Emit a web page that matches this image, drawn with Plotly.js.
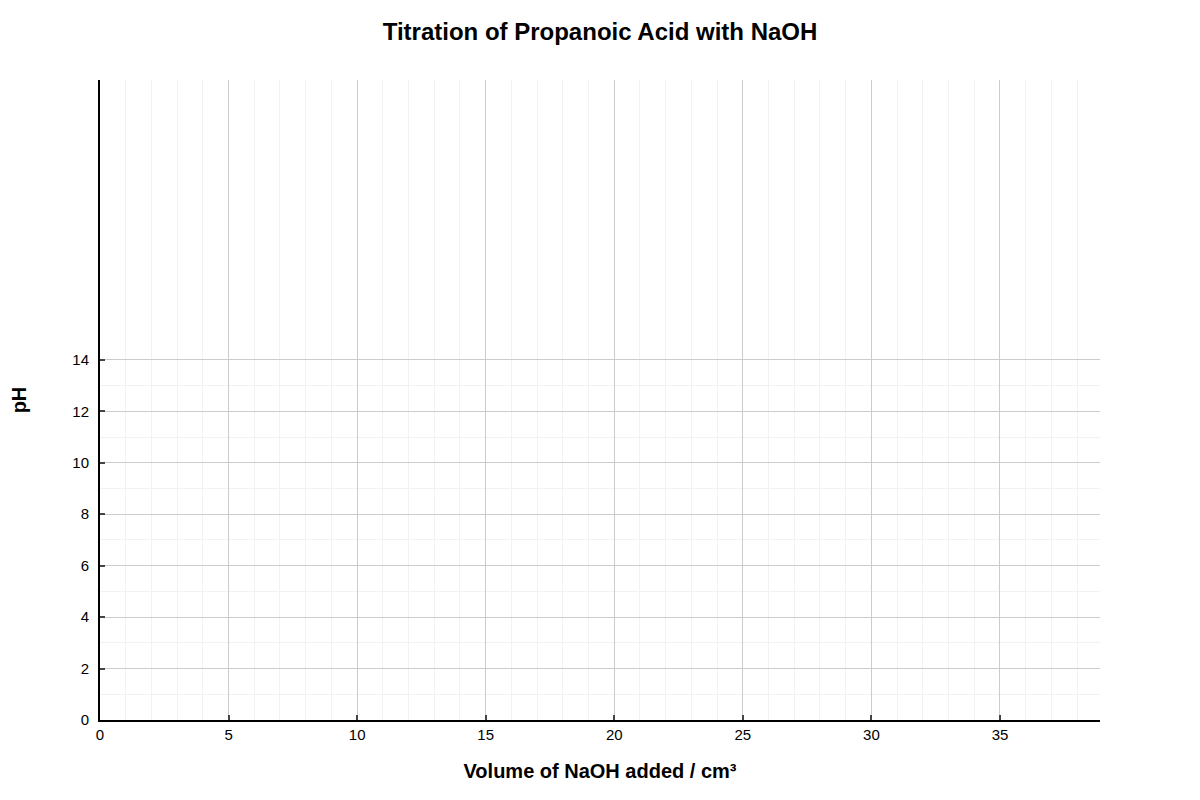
<!DOCTYPE html>
<html>
<head>
<meta charset="utf-8">
<script src="https://cdn.plot.ly/plotly-3.0.1.min.js"></script>
<style>
  body { margin: 0; background: #fff; }
  #chart { width: 1200px; height: 800px; }
</style>
</head>
<body>
<div id="chart"></div>
<script>
// titration readings (none plotted yet - blank grid for the student to fill in)
const volumeAdded = [];
const pHValues = [];

const xTicks = [0, 5, 10, 15, 20, 25, 30, 35];
const xMinorTicks = [];
for (let v = 0; v <= 38; v++) if (v % 5 !== 0) xMinorTicks.push(v);
const yTicks = [0, 2, 4, 6, 8, 10, 12, 14];
const yMinorTicks = [1, 3, 5, 7, 9, 11, 13];

const trace = {
    x: volumeAdded,
    y: pHValues,
    mode: 'lines+markers',
    type: 'scatter',
    line: { color: '#1f77b4' },
    showlegend: false
};

const layout = {
    width: 1200,
    height: 800,
    font: { family: 'Liberation Sans, Arial, sans-serif', color: '#000' },
    title: { text: '<b>Titration of Propanoic Acid with NaOH</b>', font: { size: 24 }, x: 0.5, y: 0.96, yanchor: 'middle' },
    margin: { l: 100, r: 100, t: 80, b: 80 },
    plot_bgcolor: '#fff',
    paper_bgcolor: '#fff',
    xaxis: {
        title: { text: '<b>Volume of NaOH added / cm³</b>', font: { size: 20 }, standoff: 22 },
        range: [0, 38.89],
        tickvals: xTicks,
        ticks: 'inside',
        ticklen: 5,
        tickwidth: 2,
        tickcolor: '#444',
        tickfont: { size: 15 },
        showline: true, linecolor: '#000', linewidth: 2,
        showgrid: true, gridcolor: '#cccccc', gridwidth: 1,
        zeroline: false,
        minor: { tickvals: xMinorTicks, showgrid: true, gridcolor: '#f2f2f2', gridwidth: 1, ticks: '' }
    },
    yaxis: {
        title: { text: '<b>pH</b>', font: { size: 20 }, standoff: 40 },
        range: [0, 24.88],
        tickvals: yTicks,
        ticks: 'inside',
        ticklen: 5,
        tickwidth: 2,
        tickcolor: '#444',
        tickfont: { size: 15 },
        ticklabelstandoff: 6,
        showline: true, linecolor: '#000', linewidth: 2,
        showgrid: true, gridcolor: '#cccccc', gridwidth: 1,
        zeroline: false,
        minor: { tickvals: yMinorTicks, showgrid: true, gridcolor: '#f2f2f2', gridwidth: 1, ticks: '' }
    }
};

Plotly.newPlot('chart', [trace], layout, { displayModeBar: false });
</script>
</body>
</html>
